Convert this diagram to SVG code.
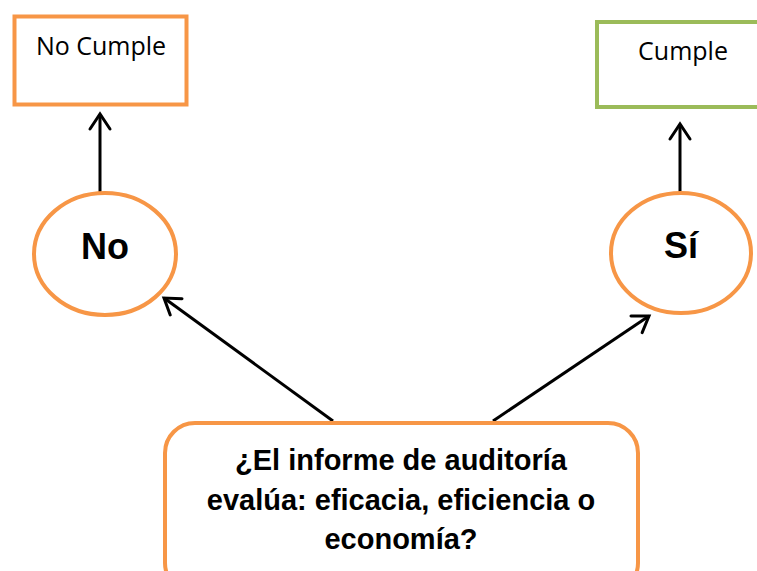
<svg xmlns="http://www.w3.org/2000/svg" width="757" height="571" viewBox="0 0 757 571">
  <style>
    .box { fill: #FFFFFF; stroke-width: 4; }
    .orange { stroke: #F79646; }
    .green { stroke: #9BBB59; }
    .small { font-family: "Open Sans", "Noto Sans", sans-serif; font-size: 25px; fill: #000000; text-anchor: middle; }
    .big { font-family: "Liberation Sans", Arial, sans-serif; font-weight: bold; font-size: 36px; fill: #000000; text-anchor: middle; }
    .q { font-family: "Liberation Sans", Arial, sans-serif; font-weight: bold; font-size: 29px; fill: #000000; text-anchor: middle; }
    .conn { stroke: #000000; stroke-width: 3; fill: none; marker-end: url(#arrow); }
  </style>
  <defs>
    <marker id="arrow" markerUnits="userSpaceOnUse" orient="auto" markerWidth="30" markerHeight="30" refX="0" refY="0" viewBox="-20 -15 30 30" overflow="visible">
      <path d="M-15,-10 L0,0 L-15,10" fill="none" stroke="#000000" stroke-width="3" stroke-linecap="round" stroke-linejoin="miter"/>
    </marker>
  </defs>
  <rect width="757" height="571" fill="#FFFFFF"/>

  <g id="connectors">
    <line class="conn" x1="100" y1="192" x2="100" y2="114"/>
    <line class="conn" x1="680" y1="192" x2="680" y2="124"/>
    <line class="conn" x1="333" y1="421" x2="164" y2="298"/>
    <line class="conn" x1="493" y1="421" x2="649" y2="316"/>
  </g>

  <g id="no-cumple">
    <rect class="box orange" x="14.5" y="16.5" width="172" height="88"/>
    <text class="small" x="101" y="55">No Cumple</text>
  </g>

  <g id="cumple">
    <rect class="box green" x="597" y="22" width="180" height="85"/>
    <text class="small" x="683" y="60">Cumple</text>
  </g>

  <g id="no">
    <ellipse class="box orange" cx="105" cy="254" rx="71" ry="61"/>
    <text class="big" x="105" y="259">No</text>
  </g>

  <g id="si">
    <ellipse class="box orange" cx="681" cy="253" rx="70" ry="60"/>
    <text class="big" x="681" y="258">Sí</text>
  </g>

  <g id="question">
    <rect class="box orange" x="165" y="423" width="473" height="170" rx="30" ry="30"/>
    <text class="q" x="401" y="470">¿El informe de auditoría</text>
    <text class="q" x="401" y="510">evalúa: eficacia, eficiencia o</text>
    <text class="q" x="401" y="549">economía?</text>
  </g>
</svg>
